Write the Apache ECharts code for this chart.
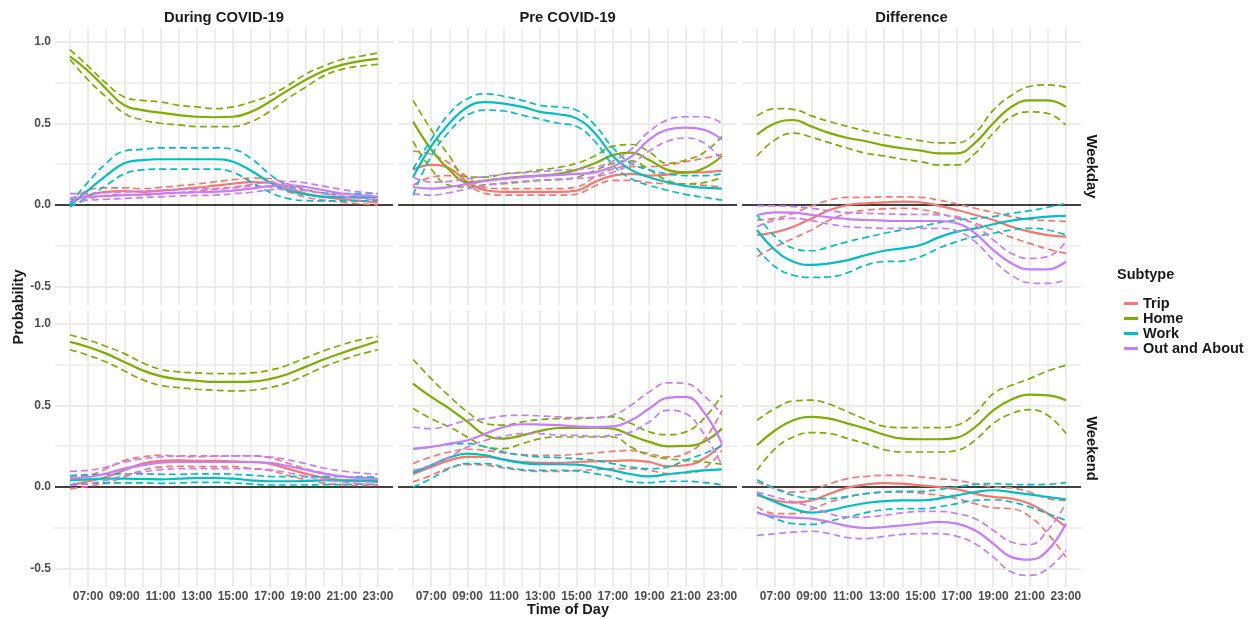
<!DOCTYPE html>
<html><head><meta charset="utf-8">
<script src="https://cdn.jsdelivr.net/npm/echarts@6/dist/echarts.min.js"></script>
<style>html,body{margin:0;padding:0;background:#fff}#c{width:1252px;height:619px}</style>
</head><body><div id="c"></div>
<script>
// ---------- axes / labels ----------
const hours = [6,7,8,9,10,11,12,13,14,15,16,17,18,19,20,21,22,23];
const xTickValues = [7,9,11,13,15,17,19,21,23];
const xTickLabels = ['07:00','09:00','11:00','13:00','15:00','17:00','19:00','21:00','23:00'];
const yTickValues = [-0.5,0,0.5,1];
const yTickLabels = ['-0.5','0.0','0.5','1.0'];
const subtypes = ['Trip','Home','Work','Out and About'];
const periods = ['During COVID-19','Pre COVID-19','Difference'];
const dayTypes = ['Weekday','Weekend'];

// ---------- During COVID-19, Weekday ----------
const during_wd_trip    = [0.01,0.06,0.08,0.085,0.08,0.088,0.096,0.106,0.118,0.13,0.14,0.137,0.106,0.07,0.05,0.035,0.025,0.016];
const during_wd_trip_lo = [-0.01,0.035,0.058,0.063,0.06,0.068,0.075,0.085,0.095,0.105,0.115,0.112,0.082,0.048,0.03,0.018,0.008,0.0];
const during_wd_trip_hi = [0.03,0.09,0.105,0.105,0.1,0.108,0.118,0.128,0.142,0.155,0.165,0.162,0.13,0.095,0.072,0.055,0.045,0.035];
const during_wd_home    = [0.91,0.82,0.71,0.61,0.58,0.565,0.55,0.54,0.537,0.54,0.57,0.63,0.70,0.765,0.82,0.857,0.88,0.894];
const during_wd_home_lo = [0.89,0.765,0.66,0.56,0.52,0.50,0.49,0.48,0.48,0.48,0.51,0.57,0.65,0.72,0.79,0.83,0.85,0.86];
const during_wd_home_hi = [0.95,0.85,0.745,0.66,0.64,0.63,0.61,0.60,0.59,0.60,0.63,0.67,0.73,0.80,0.85,0.89,0.91,0.93];
const during_wd_work    = [0.0,0.09,0.18,0.255,0.275,0.28,0.28,0.28,0.28,0.265,0.21,0.14,0.09,0.065,0.05,0.047,0.047,0.05];
const during_wd_work_lo = [-0.01,0.05,0.12,0.19,0.215,0.22,0.22,0.22,0.22,0.20,0.14,0.08,0.04,0.027,0.025,0.025,0.025,0.03];
const during_wd_work_hi = [0.01,0.14,0.255,0.33,0.34,0.35,0.35,0.35,0.35,0.34,0.285,0.19,0.12,0.09,0.075,0.07,0.07,0.07];
const during_wd_out     = [0.04,0.05,0.055,0.06,0.065,0.07,0.075,0.078,0.08,0.088,0.1,0.116,0.12,0.11,0.09,0.07,0.06,0.05];
const during_wd_out_lo  = [0.02,0.03,0.035,0.04,0.045,0.05,0.055,0.058,0.06,0.068,0.078,0.092,0.097,0.088,0.068,0.05,0.04,0.03];
const during_wd_out_hi  = [0.07,0.07,0.075,0.08,0.085,0.09,0.095,0.098,0.1,0.11,0.125,0.14,0.145,0.135,0.115,0.095,0.08,0.07];

// ---------- Pre COVID-19, Weekday ----------
const pre_wd_trip    = [0.215,0.245,0.225,0.14,0.09,0.08,0.08,0.08,0.08,0.088,0.14,0.18,0.19,0.18,0.186,0.198,0.20,0.21];
const pre_wd_trip_lo = [0.12,0.17,0.18,0.12,0.07,0.06,0.06,0.06,0.06,0.067,0.116,0.15,0.15,0.137,0.13,0.128,0.12,0.11];
const pre_wd_trip_hi = [0.33,0.31,0.255,0.17,0.106,0.10,0.10,0.10,0.10,0.11,0.17,0.22,0.235,0.235,0.245,0.265,0.285,0.31];
const pre_wd_home    = [0.51,0.34,0.215,0.14,0.15,0.163,0.173,0.18,0.19,0.215,0.255,0.305,0.32,0.275,0.215,0.20,0.225,0.30];
const pre_wd_home_lo = [0.39,0.22,0.12,0.11,0.125,0.13,0.14,0.15,0.155,0.17,0.21,0.255,0.27,0.215,0.15,0.13,0.137,0.17];
const pre_wd_home_hi = [0.64,0.46,0.30,0.17,0.17,0.19,0.20,0.215,0.23,0.255,0.30,0.36,0.37,0.325,0.255,0.275,0.32,0.42];
const pre_wd_work    = [0.17,0.36,0.50,0.60,0.63,0.62,0.60,0.57,0.555,0.53,0.44,0.30,0.215,0.17,0.14,0.116,0.106,0.10];
const pre_wd_work_lo = [0.06,0.30,0.45,0.55,0.58,0.575,0.55,0.525,0.50,0.48,0.39,0.245,0.16,0.12,0.09,0.065,0.047,0.03];
const pre_wd_work_hi = [0.22,0.40,0.56,0.65,0.68,0.665,0.64,0.61,0.60,0.58,0.49,0.35,0.255,0.215,0.19,0.18,0.18,0.19];
const pre_wd_out     = [0.11,0.10,0.11,0.13,0.147,0.16,0.17,0.178,0.184,0.19,0.20,0.235,0.296,0.40,0.46,0.473,0.46,0.40];
const pre_wd_out_lo  = [0.07,0.06,0.075,0.10,0.12,0.135,0.145,0.152,0.158,0.163,0.172,0.2,0.25,0.33,0.39,0.41,0.38,0.275];
const pre_wd_out_hi  = [0.17,0.14,0.145,0.16,0.175,0.188,0.197,0.205,0.212,0.218,0.23,0.27,0.34,0.45,0.52,0.54,0.54,0.50];

// ---------- Difference, Weekday ----------
const diff_wd_trip    = [-0.184,-0.167,-0.133,-0.082,-0.031,0.0,0.01,0.016,0.02,0.016,-0.004,-0.031,-0.061,-0.092,-0.133,-0.163,-0.184,-0.194];
const diff_wd_trip_lo = [-0.316,-0.255,-0.204,-0.153,-0.092,-0.051,-0.031,-0.024,-0.02,-0.027,-0.051,-0.082,-0.112,-0.153,-0.198,-0.235,-0.27,-0.296];
const diff_wd_trip_hi = [-0.092,-0.082,-0.051,-0.006,0.03,0.047,0.047,0.05,0.05,0.047,0.03,0.006,-0.02,-0.045,-0.071,-0.088,-0.096,-0.10];
const diff_wd_home    = [0.43,0.50,0.52,0.48,0.44,0.41,0.39,0.365,0.347,0.333,0.316,0.316,0.38,0.50,0.60,0.64,0.64,0.60];
const diff_wd_home_lo = [0.30,0.40,0.44,0.415,0.38,0.347,0.316,0.30,0.28,0.265,0.245,0.245,0.316,0.44,0.54,0.57,0.56,0.49];
const diff_wd_home_hi = [0.545,0.59,0.585,0.545,0.51,0.48,0.453,0.43,0.41,0.394,0.38,0.38,0.44,0.58,0.67,0.725,0.735,0.72];
const diff_wd_work    = [-0.153,-0.276,-0.347,-0.367,-0.357,-0.337,-0.306,-0.28,-0.265,-0.245,-0.198,-0.163,-0.143,-0.118,-0.096,-0.082,-0.071,-0.067];
const diff_wd_work_lo = [-0.265,-0.378,-0.43,-0.443,-0.44,-0.414,-0.367,-0.347,-0.343,-0.316,-0.265,-0.224,-0.194,-0.173,-0.153,-0.143,-0.153,-0.184];
const diff_wd_work_hi = [-0.06,-0.194,-0.265,-0.28,-0.255,-0.224,-0.198,-0.173,-0.153,-0.133,-0.108,-0.092,-0.082,-0.071,-0.051,-0.035,-0.014,0.01];
const diff_wd_out     = [-0.061,-0.045,-0.047,-0.061,-0.076,-0.086,-0.092,-0.096,-0.098,-0.098,-0.098,-0.112,-0.173,-0.276,-0.357,-0.394,-0.394,-0.347];
const diff_wd_out_lo  = [-0.133,-0.092,-0.082,-0.096,-0.118,-0.133,-0.139,-0.143,-0.143,-0.143,-0.143,-0.159,-0.224,-0.337,-0.429,-0.476,-0.48,-0.459];
const diff_wd_out_hi  = [-0.006,-0.006,-0.01,-0.02,-0.035,-0.047,-0.051,-0.055,-0.057,-0.057,-0.061,-0.071,-0.122,-0.214,-0.296,-0.327,-0.316,-0.224];

// ---------- During COVID-19, Weekend ----------
const during_we_trip    = [0.01,0.035,0.061,0.102,0.143,0.16,0.163,0.16,0.16,0.157,0.153,0.143,0.112,0.082,0.057,0.041,0.035,0.031];
const during_we_trip_lo = [-0.01,0.004,0.024,0.061,0.102,0.122,0.127,0.125,0.125,0.125,0.112,0.102,0.071,0.045,0.024,0.014,0.01,0.01];
const during_we_trip_hi = [0.061,0.071,0.112,0.163,0.184,0.194,0.188,0.185,0.188,0.19,0.19,0.18,0.147,0.112,0.086,0.067,0.057,0.051];
const during_we_home    = [0.888,0.857,0.816,0.765,0.714,0.678,0.66,0.65,0.643,0.643,0.645,0.66,0.69,0.735,0.78,0.82,0.857,0.892];
const during_we_home_lo = [0.84,0.806,0.765,0.71,0.657,0.622,0.608,0.598,0.592,0.588,0.592,0.608,0.637,0.684,0.735,0.776,0.812,0.84];
const during_we_home_hi = [0.93,0.90,0.86,0.816,0.76,0.72,0.704,0.698,0.694,0.694,0.698,0.714,0.745,0.79,0.833,0.87,0.90,0.922];
const during_we_work    = [0.041,0.047,0.051,0.051,0.049,0.047,0.051,0.055,0.055,0.051,0.041,0.035,0.035,0.037,0.041,0.041,0.041,0.037];
const during_we_work_lo = [0.015,0.02,0.025,0.025,0.025,0.022,0.025,0.028,0.028,0.025,0.018,0.012,0.012,0.012,0.015,0.015,0.017,0.015];
const during_we_work_hi = [0.07,0.075,0.078,0.08,0.08,0.078,0.078,0.08,0.08,0.078,0.072,0.065,0.063,0.063,0.063,0.063,0.062,0.06];
const during_we_out     = [0.051,0.061,0.082,0.112,0.133,0.149,0.153,0.153,0.153,0.153,0.153,0.147,0.129,0.106,0.082,0.065,0.055,0.047];
const during_we_out_lo  = [0.01,0.02,0.041,0.071,0.092,0.106,0.112,0.112,0.112,0.112,0.112,0.106,0.088,0.065,0.045,0.031,0.02,0.014];
const during_we_out_hi  = [0.096,0.102,0.122,0.153,0.173,0.184,0.19,0.19,0.19,0.19,0.19,0.184,0.167,0.143,0.116,0.098,0.086,0.078];

// ---------- Pre COVID-19, Weekend ----------
const pre_we_trip    = [0.078,0.122,0.163,0.184,0.184,0.167,0.153,0.147,0.147,0.153,0.157,0.159,0.163,0.153,0.127,0.133,0.173,0.261];
const pre_we_trip_lo = [0.031,0.071,0.118,0.137,0.133,0.116,0.102,0.096,0.096,0.102,0.106,0.112,0.112,0.102,0.082,0.086,0.112,0.224];
const pre_we_trip_hi = [0.143,0.184,0.214,0.231,0.224,0.208,0.198,0.194,0.194,0.2,0.208,0.218,0.224,0.204,0.184,0.204,0.286,0.469];
const pre_we_home    = [0.633,0.551,0.48,0.398,0.316,0.296,0.316,0.343,0.361,0.361,0.363,0.357,0.316,0.276,0.249,0.251,0.276,0.357];
const pre_we_home_lo = [0.48,0.418,0.367,0.306,0.245,0.235,0.265,0.296,0.306,0.306,0.306,0.306,0.245,0.194,0.173,0.163,0.153,0.139];
const pre_we_home_hi = [0.78,0.663,0.555,0.459,0.388,0.378,0.398,0.412,0.418,0.418,0.424,0.429,0.388,0.337,0.32,0.337,0.418,0.561];
const pre_we_work    = [0.088,0.133,0.18,0.204,0.194,0.167,0.147,0.139,0.139,0.137,0.122,0.102,0.078,0.065,0.078,0.09,0.102,0.108];
const pre_we_work_lo = [0.0,0.051,0.112,0.143,0.143,0.122,0.106,0.102,0.102,0.098,0.082,0.061,0.031,0.027,0.035,0.035,0.027,0.014];
const pre_we_work_hi = [0.231,0.245,0.261,0.265,0.245,0.214,0.194,0.184,0.18,0.173,0.163,0.143,0.122,0.112,0.122,0.163,0.204,0.251];
const pre_we_out     = [0.235,0.245,0.265,0.286,0.327,0.367,0.384,0.382,0.378,0.371,0.367,0.371,0.408,0.48,0.545,0.551,0.459,0.265];
const pre_we_out_lo  = [0.102,0.133,0.184,0.245,0.286,0.31,0.327,0.327,0.316,0.316,0.31,0.316,0.337,0.398,0.469,0.449,0.327,0.133];
const pre_we_out_hi  = [0.367,0.357,0.378,0.408,0.418,0.435,0.439,0.435,0.429,0.424,0.424,0.439,0.5,0.582,0.637,0.633,0.561,0.44];

// ---------- Difference, Weekend ----------
const diff_we_trip    = [-0.051,-0.082,-0.096,-0.082,-0.041,-0.004,0.016,0.024,0.02,0.01,0.0,-0.014,-0.041,-0.061,-0.071,-0.102,-0.163,-0.245];
const diff_we_trip_lo = [-0.122,-0.163,-0.163,-0.137,-0.092,-0.061,-0.041,-0.031,-0.031,-0.037,-0.051,-0.071,-0.102,-0.127,-0.133,-0.18,-0.286,-0.429];
const diff_we_trip_hi = [0.031,-0.01,-0.031,-0.02,0.02,0.051,0.065,0.071,0.071,0.061,0.051,0.041,0.02,0.0,-0.006,-0.031,-0.071,-0.082];
const diff_we_home    = [0.255,0.347,0.408,0.429,0.418,0.388,0.357,0.32,0.296,0.292,0.292,0.302,0.367,0.469,0.535,0.565,0.561,0.531];
const diff_we_home_lo = [0.102,0.235,0.306,0.333,0.327,0.296,0.265,0.229,0.214,0.214,0.214,0.224,0.286,0.388,0.449,0.473,0.439,0.327];
const diff_we_home_hi = [0.408,0.48,0.527,0.531,0.506,0.459,0.412,0.371,0.363,0.363,0.363,0.378,0.449,0.571,0.622,0.663,0.71,0.745];
const diff_we_work    = [-0.041,-0.092,-0.133,-0.157,-0.143,-0.118,-0.098,-0.086,-0.082,-0.082,-0.071,-0.051,-0.031,-0.02,-0.031,-0.045,-0.061,-0.076];
const diff_we_work_lo = [-0.153,-0.194,-0.224,-0.229,-0.208,-0.184,-0.157,-0.139,-0.133,-0.133,-0.122,-0.102,-0.082,-0.078,-0.092,-0.122,-0.163,-0.204];
const diff_we_work_hi = [0.045,-0.01,-0.051,-0.071,-0.071,-0.057,-0.041,-0.031,-0.027,-0.027,-0.016,0.0,0.016,0.02,0.016,0.014,0.016,0.027];
const diff_we_out     = [-0.159,-0.18,-0.188,-0.194,-0.214,-0.239,-0.251,-0.245,-0.235,-0.224,-0.214,-0.224,-0.265,-0.347,-0.429,-0.445,-0.388,-0.224];
const diff_we_out_lo  = [-0.296,-0.286,-0.276,-0.271,-0.286,-0.31,-0.316,-0.302,-0.29,-0.286,-0.286,-0.302,-0.347,-0.429,-0.52,-0.541,-0.5,-0.388];
const diff_we_out_hi  = [-0.031,-0.061,-0.092,-0.122,-0.163,-0.184,-0.184,-0.173,-0.159,-0.149,-0.149,-0.163,-0.194,-0.265,-0.337,-0.353,-0.265,-0.102];

// ---------- panel assembly (references only) ----------
const panels = [
  [[during_wd_trip,during_wd_trip_lo,during_wd_trip_hi],[during_wd_home,during_wd_home_lo,during_wd_home_hi],[during_wd_work,during_wd_work_lo,during_wd_work_hi],[during_wd_out,during_wd_out_lo,during_wd_out_hi]],
  [[pre_wd_trip,pre_wd_trip_lo,pre_wd_trip_hi],[pre_wd_home,pre_wd_home_lo,pre_wd_home_hi],[pre_wd_work,pre_wd_work_lo,pre_wd_work_hi],[pre_wd_out,pre_wd_out_lo,pre_wd_out_hi]],
  [[diff_wd_trip,diff_wd_trip_lo,diff_wd_trip_hi],[diff_wd_home,diff_wd_home_lo,diff_wd_home_hi],[diff_wd_work,diff_wd_work_lo,diff_wd_work_hi],[diff_wd_out,diff_wd_out_lo,diff_wd_out_hi]],
  [[during_we_trip,during_we_trip_lo,during_we_trip_hi],[during_we_home,during_we_home_lo,during_we_home_hi],[during_we_work,during_we_work_lo,during_we_work_hi],[during_we_out,during_we_out_lo,during_we_out_hi]],
  [[pre_we_trip,pre_we_trip_lo,pre_we_trip_hi],[pre_we_home,pre_we_home_lo,pre_we_home_hi],[pre_we_work,pre_we_work_lo,pre_we_work_hi],[pre_we_out,pre_we_out_lo,pre_we_out_hi]],
  [[diff_we_trip,diff_we_trip_lo,diff_we_trip_hi],[diff_we_home,diff_we_home_lo,diff_we_home_hi],[diff_we_work,diff_we_work_lo,diff_we_work_hi],[diff_we_out,diff_we_out_lo,diff_we_out_hi]]
];

// ---------- styling ----------
const colors = ['#F8766D','#7CAE00','#00BFC4','#C77CFF'];
const cols = [{left:55,width:338},{left:398,width:339},{left:742,width:339}];
const rows = [{top:28,height:277},{top:310,height:277}];
const X_MIN = 5.172, X_MAX = 23.83, Y_MIN = -0.612, Y_MAX = 1.083;
const FONT = 'Liberation Sans, Arial, Helvetica, sans-serif';
const gridColor = '#ebebeb';

const chart = echarts.init(document.getElementById('c'), null, {renderer:'canvas'});
const grids = [], xAxes = [], yAxes = [], series = [];

for (let p = 0; p < 6; p++) {
  const r = Math.floor(p / 3), c = p % 3;
  grids.push({left: cols[c].left, top: rows[r].top, width: cols[c].width, height: rows[r].height, outerBoundsMode: 'none', containLabel: false});
  xAxes.push({
    gridIndex: p, type: 'value', min: X_MIN, max: X_MAX,
    splitLine: {show: false}, axisLine: {show: false}, axisTick: {show: false},
    axisLabel: {
      show: r === 1, customValues: xTickValues, margin: 4,
      color: '#4d4d4d', fontSize: 12, fontWeight: 'bold', fontFamily: FONT,
      formatter: v => { const i = xTickValues.indexOf(Math.round(v)); return i >= 0 ? xTickLabels[i] : ''; }
    }
  });
  yAxes.push({
    gridIndex: p, type: 'value', min: Y_MIN, max: Y_MAX,
    splitLine: {show: false}, axisLine: {show: false}, axisTick: {show: false},
    axisLabel: {
      show: c === 0, customValues: yTickValues, margin: 4,
      color: '#4d4d4d', fontSize: 12, fontWeight: 'bold', fontFamily: FONT,
      formatter: v => { const i = yTickValues.findIndex(t => Math.abs(t - v) < 1e-6); return i >= 0 ? yTickLabels[i] : ''; }
    }
  });
  // background grid lines + zero line via markLine (through the axes' scales)
  const ml = [];
  hours.forEach(h => ml.push({xAxis: h, lineStyle: {color: gridColor, width: (h % 2 === 1) ? 2 : 1.6, type: 'solid'}}));
  [-0.5,-0.25,0.25,0.5,0.75,1].forEach(v => ml.push({yAxis: v, lineStyle: {color: gridColor, width: (Math.abs(v*2 - Math.round(v*2)) < 1e-6) ? 2 : 1.6, type: 'solid'}}));
  ml.push({yAxis: 0, lineStyle: {color: '#000000', width: 1.7, type: 'solid'}});
  series.push({
    type: 'line', xAxisIndex: p, yAxisIndex: p, data: [[6, 0]], showSymbol: false, symbol: 'none',
    lineStyle: {opacity: 0}, silent: true, animation: false, z: 1, legendHoverLink: false,
    markLine: {silent: true, symbol: ['none','none'], label: {show: false}, animation: false, data: ml}
  });
  panels[p].forEach((trio, si) => {
    trio.forEach((arr, k) => {
      series.push({
        name: subtypes[si], type: 'line', xAxisIndex: p, yAxisIndex: p,
        data: hours.map((h, i) => [h, arr[i]]),
        smooth: 0.45, showSymbol: false, symbol: 'none', silent: true, animation: false, z: 10,
        itemStyle: {color: colors[si]},
        lineStyle: {color: colors[si], width: k === 0 ? 2.2 : 1.7, type: k === 0 ? 'solid' : [7, 4]}
      });
    });
  });
}

const textCommon = {fontFamily: FONT, fill: '#1a1a1a', fontWeight: 'bold'};
const graphics = [];
periods.forEach((t, c) => graphics.push({type: 'text', x: cols[c].left + cols[c].width / 2, y: 18,
  style: Object.assign({text: t, fontSize: 14.8, align: 'center', verticalAlign: 'middle'}, textCommon)}));
dayTypes.forEach((t, r) => graphics.push({type: 'text', x: 1091, y: rows[r].top + rows[r].height / 2, rotation: -Math.PI / 2,
  style: Object.assign({text: t, fontSize: 14.8, align: 'center', verticalAlign: 'middle'}, textCommon)}));
graphics.push({type: 'text', x: 19, y: 307, rotation: Math.PI / 2,
  style: Object.assign({text: 'Probability', fontSize: 14.5, align: 'center', verticalAlign: 'middle'}, textCommon)});
graphics.push({type: 'text', x: 568, y: 610,
  style: Object.assign({text: 'Time of Day', fontSize: 14.5, align: 'center', verticalAlign: 'middle'}, textCommon)});
graphics.push({type: 'text', x: 1117, y: 275,
  style: Object.assign({text: 'Subtype', fontSize: 14.5, align: 'left', verticalAlign: 'middle'}, textCommon)});

chart.setOption({
  backgroundColor: '#ffffff',
  animation: false,
  grid: grids, xAxis: xAxes, yAxis: yAxes, series: series,
  legend: {
    data: subtypes, orient: 'vertical', left: 1119, top: 291, itemGap: 0,
    itemWidth: 14, itemHeight: 3, icon: 'rect', selectedMode: false,
    textStyle: {fontSize: 14.5, color: '#1a1a1a', fontWeight: 'bold', fontFamily: FONT, lineHeight: 15}
  },
  graphic: graphics
});
</script></body></html>
